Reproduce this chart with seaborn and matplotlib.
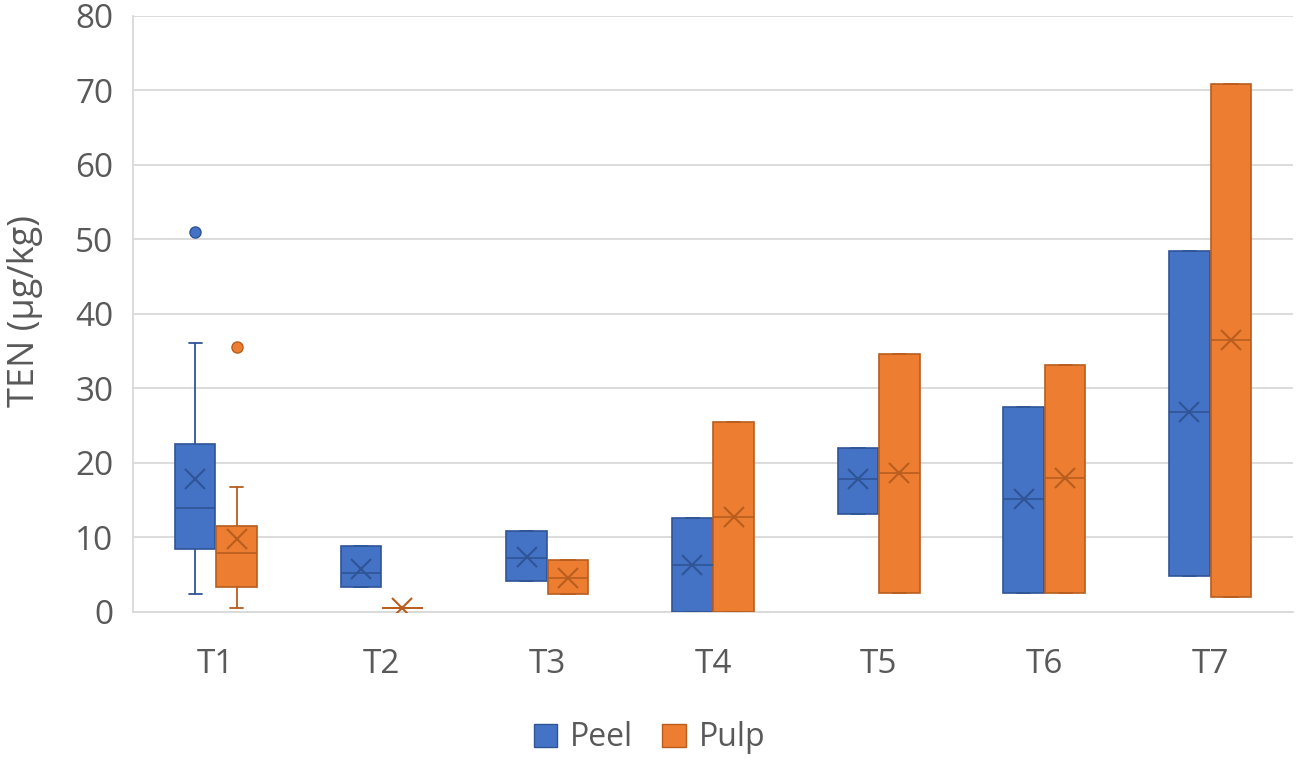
import matplotlib
matplotlib.use("Agg")
import matplotlib.pyplot as plt
from matplotlib.patches import Patch
import seaborn as sns
import numpy as np

# ---- data ----
categories = ["T1", "T2", "T3", "T4", "T5", "T6", "T7"]

peel_whislo = [2.4, 3.3, 4.2, 0.0, 13.2, 2.6, 4.8]
peel_q1 = [8.5, 3.3, 4.2, 0.0, 13.2, 2.6, 4.8]
peel_med = [13.9, 5.2, 7.3, 6.3, 17.8, 15.2, 26.8]
peel_q3 = [22.5, 8.9, 10.9, 12.6, 22.0, 27.5, 48.5]
peel_whishi = [36.1, 8.9, 10.9, 12.6, 22.0, 27.5, 48.5]
peel_mean = [17.8, 5.8, 7.4, 6.3, 17.8, 15.2, 26.8]
peel_outliers = [[51.0], [], [], [], [], [], []]

pulp_whislo = [0.5, 0.5, 2.4, 0.0, 2.6, 2.6, 2.0]
pulp_q1 = [3.4, 0.5, 2.4, 0.0, 2.6, 2.6, 2.0]
pulp_med = [7.9, 0.5, 4.5, 12.8, 18.6, 18.0, 36.5]
pulp_q3 = [11.5, 0.5, 7.0, 25.5, 34.6, 33.1, 70.9]
pulp_whishi = [16.8, 0.5, 7.0, 25.5, 34.6, 33.1, 70.9]
pulp_mean = [9.8, 0.5, 4.5, 12.8, 18.7, 18.0, 36.5]
pulp_outliers = [[35.6], [], [], [], [], [], []]

series_names = ["Peel", "Pulp"]
y_ticks = [0, 10, 20, 30, 40, 50, 60, 70, 80]

# ---- style ----
sns.set_theme(style="whitegrid")
plt.rcParams["font.family"] = ["Open Sans", "DejaVu Sans"]
text_color = "#595959"
grid_color = "#D9D9D9"

fills = ["#4472C4", "#ED7D31"]
edges = ["#2F5597", "#B85D1E"]

fig = plt.figure(figsize=(12.99, 7.72), dpi=100)
ax = fig.add_axes([0.1024, 0.2073, 0.9954 - 0.1024, 0.9793 - 0.2073])

def make_stats(lo, q1, med, q3, hi, mean, outl):
    return [dict(whislo=a, q1=b, med=c, q3=d, whishi=e, mean=f, fliers=g, label="")
            for a, b, c, d, e, f, g in zip(lo, q1, med, q3, hi, mean, outl)]

all_stats = [
    make_stats(peel_whislo, peel_q1, peel_med, peel_q3, peel_whishi, peel_mean, peel_outliers),
    make_stats(pulp_whislo, pulp_q1, pulp_med, pulp_q3, pulp_whishi, pulp_mean, pulp_outliers),
]
offsets = [-0.125, 0.125]
box_w = 0.245
base = np.arange(len(categories))

for k, stats in enumerate(all_stats):
    ax.bxp(
        stats,
        positions=base + offsets[k],
        widths=box_w,
        patch_artist=True,
        showmeans=True,
        showfliers=True,
        capwidths=0.08,
        boxprops=dict(facecolor=fills[k], edgecolor=edges[k], linewidth=1.2),
        medianprops=dict(color=edges[k], linewidth=1.2),
        whiskerprops=dict(color=edges[k], linewidth=1.3),
        capprops=dict(color=edges[k], linewidth=1.3),
        meanprops=dict(marker="x", markersize=15, markeredgewidth=1.5,
                       markeredgecolor=edges[k], markerfacecolor=edges[k]),
        flierprops=dict(marker="o", markersize=8, markerfacecolor=fills[k],
                        markeredgecolor=edges[k], markeredgewidth=1.0),
        zorder=3,
    )

ax.set_xlim(-0.5, len(categories) - 0.5)
ax.set_ylim(0, 80)
ax.set_xticks(base)
ax.set_xticklabels(categories)
ax.set_yticks(y_ticks)
ax.set_yticklabels([str(t) for t in y_ticks])

ax.grid(axis="y", color=grid_color, linewidth=1.3)
ax.grid(axis="x", visible=False)
ax.set_axisbelow(True)
for side in ["top", "right"]:
    ax.spines[side].set_visible(False)
ax.spines["left"].set_color(grid_color)
ax.spines["left"].set_linewidth(1.3)
ax.spines["bottom"].set_color(grid_color)
ax.spines["bottom"].set_linewidth(1.3)
ax.set_facecolor("white")

ax.tick_params(axis="x", length=0, pad=26, labelsize=24, labelcolor=text_color)
ax.tick_params(axis="y", length=0, pad=14, labelsize=24, labelcolor=text_color)
ax.set_ylabel("TEN (µg/kg)", fontsize=26, color=text_color)
ax.yaxis.set_label_coords(-0.078, 0.505)

handles = [Patch(facecolor=fills[i], edgecolor=edges[i], linewidth=1.0, label=series_names[i])
           for i in range(2)]
fig.legend(handles=handles, loc="center", bbox_to_anchor=(0.5, 1 - 738 / 772), ncol=2,
           frameon=False, fontsize=23, handlelength=0.75, handleheight=0.75,
           handletextpad=0.4, columnspacing=0.9, labelcolor=text_color)

fig.savefig("out.png", dpi=100, facecolor="white")
